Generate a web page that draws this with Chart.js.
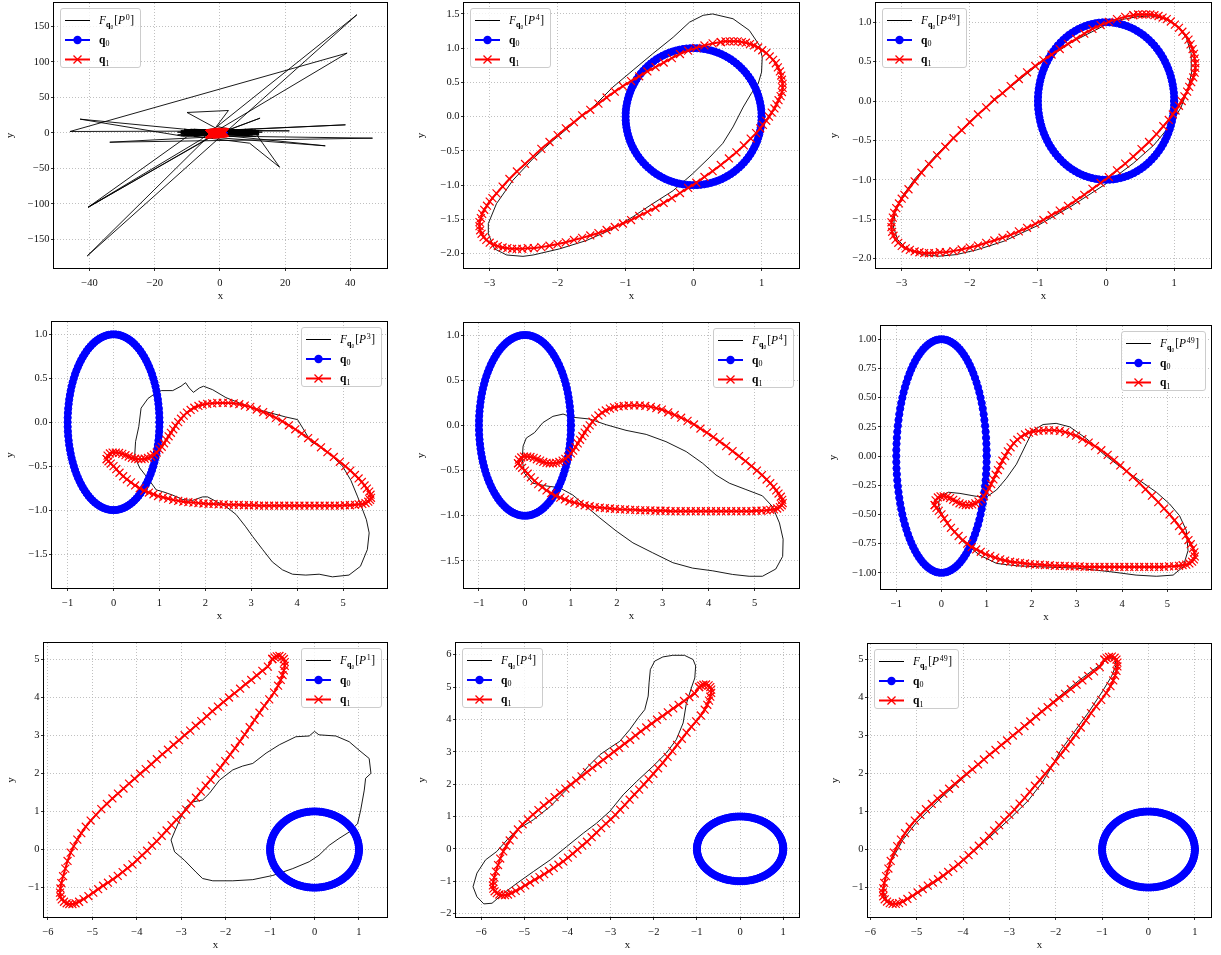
<!DOCTYPE html>
<html>
<head>
<meta charset="utf-8">
<script src="https://cdn.jsdelivr.net/npm/chart.js@4.4.1/dist/chart.umd.min.js"></script>
<style>
  html, body { margin: 0; padding: 0; background: #fff; }
  body { width: 1221px; height: 955px; position: relative; overflow: hidden; }
  canvas { position: absolute; }
</style>
</head>
<body>
<script>
// ---------- data ----------
// q0: unit circle sampled every 3 degrees
const Q0 = [
[1,0],[.999,.052],[.995,.105],[.988,.156],[.978,.208],[.966,.259],[.951,.309],[.934,.358],[.914,.407],[.891,.454],
[.866,.5],[.839,.545],[.809,.588],[.777,.629],[.743,.669],[.707,.707],[.669,.743],[.629,.777],[.588,.809],[.545,.839],
[.5,.866],[.454,.891],[.407,.914],[.358,.934],[.309,.951],[.259,.966],[.208,.978],[.156,.988],[.105,.995],[.052,.999],
[0,1],[-.052,.999],[-.105,.995],[-.156,.988],[-.208,.978],[-.259,.966],[-.309,.951],[-.358,.934],[-.407,.914],[-.454,.891],
[-.5,.866],[-.545,.839],[-.588,.809],[-.629,.777],[-.669,.743],[-.707,.707],[-.743,.669],[-.777,.629],[-.809,.588],[-.839,.545],
[-.866,.5],[-.891,.454],[-.914,.407],[-.934,.358],[-.951,.309],[-.966,.259],[-.978,.208],[-.988,.156],[-.995,.105],[-.999,.052],
[-1,0],[-.999,-.052],[-.995,-.105],[-.988,-.156],[-.978,-.208],[-.966,-.259],[-.951,-.309],[-.934,-.358],[-.914,-.407],[-.891,-.454],
[-.866,-.5],[-.839,-.545],[-.809,-.588],[-.777,-.629],[-.743,-.669],[-.707,-.707],[-.669,-.743],[-.629,-.777],[-.588,-.809],[-.545,-.839],
[-.5,-.866],[-.454,-.891],[-.407,-.914],[-.358,-.934],[-.309,-.951],[-.259,-.966],[-.208,-.978],[-.156,-.988],[-.105,-.995],[-.052,-.999],
[0,-1],[.052,-.999],[.105,-.995],[.156,-.988],[.208,-.978],[.259,-.966],[.309,-.951],[.358,-.934],[.407,-.914],[.454,-.891],
[.5,-.866],[.545,-.839],[.588,-.809],[.629,-.777],[.669,-.743],[.707,-.707],[.743,-.669],[.777,-.629],[.809,-.588],[.839,-.545],
[.866,-.5],[.891,-.454],[.914,-.407],[.934,-.358],[.951,-.309],[.966,-.259],[.978,-.208],[.988,-.156],[.995,-.105],[.999,-.052],
[1,0]
];

// q1 for the first row
const Q1_R1 = [
[0.40,1.09],[0.28,1.07],[0.16,1.04],[0.04,1.005],[-0.08,0.965],[-0.20,0.915],[-0.32,0.855],[-0.44,0.79],[-0.56,0.725],[-0.68,0.66],
[-0.80,0.59],[-0.92,0.52],[-1.04,0.445],[-1.16,0.365],[-1.28,0.28],[-1.40,0.19],[-1.52,0.10],[-1.64,0.02],[-1.76,-0.08],[-1.88,-0.17],
[-2.00,-0.27],[-2.12,-0.37],[-2.24,-0.47],[-2.36,-0.58],[-2.48,-0.69],[-2.60,-0.80],[-2.71,-0.91],[-2.81,-1.02],[-2.90,-1.12],[-2.96,-1.19],
[-3.00,-1.24],[-3.04,-1.30],[-3.08,-1.36],[-3.11,-1.42],[-3.13,-1.48],[-3.15,-1.54],[-3.15,-1.60],[-3.14,-1.66],[-3.12,-1.71],[-3.09,-1.76],
[-3.05,-1.80],[-3.00,-1.84],[-2.94,-1.87],[-2.88,-1.89],[-2.81,-1.91],[-2.74,-1.92],[-2.67,-1.93],[-2.60,-1.93],[-2.52,-1.93],[-2.44,-1.92],
[-2.35,-1.92],[-2.24,-1.905],[-2.12,-1.885],[-2.00,-1.86],[-1.88,-1.835],[-1.76,-1.80],[-1.64,-1.77],[-1.52,-1.735],[-1.40,-1.70],[-1.28,-1.655],
[-1.16,-1.61],[-1.04,-1.56],[-0.92,-1.51],[-0.80,-1.45],[-0.68,-1.39],[-0.56,-1.33],[-0.44,-1.26],[-0.32,-1.19],[-0.20,-1.115],[-0.08,-1.04],
[0.04,-0.965],[0.16,-0.88],[0.28,-0.795],[0.40,-0.705],[0.52,-0.61],[0.63,-0.52],[0.74,-0.42],[0.84,-0.32],[0.92,-0.24],[0.98,-0.17],
[1.02,-0.12],[1.07,-0.06],[1.11,0.00],[1.15,0.06],[1.19,0.12],[1.22,0.18],[1.25,0.24],[1.28,0.30],[1.30,0.36],[1.31,0.42],
[1.31,0.48],[1.30,0.54],[1.29,0.60],[1.27,0.66],[1.24,0.72],[1.21,0.78],[1.17,0.83],[1.12,0.88],[1.07,0.93],[1.01,0.97],
[0.95,1.01],[0.89,1.04],[0.83,1.06],[0.77,1.08],[0.71,1.09],[0.65,1.10],[0.59,1.10],[0.53,1.10],[0.47,1.10],[0.40,1.09]
];

// q1 for the second row
const Q1_R2 = [
[-0.15,-0.42],[-0.13,-0.38],[-0.08,-0.355],[-0.02,-0.345],[0.05,-0.345],[0.12,-0.35],[0.19,-0.36],[0.26,-0.375],[0.33,-0.39],[0.40,-0.405],
[0.47,-0.415],[0.54,-0.42],[0.61,-0.42],[0.68,-0.415],[0.75,-0.405],[0.82,-0.39],[0.88,-0.37],[0.94,-0.345],[1.00,-0.31],
[1.05,-0.28],[1.10,-0.24],[1.15,-0.20],[1.20,-0.16],[1.25,-0.12],[1.30,-0.08],[1.35,-0.04],[1.41,0.0],[1.47,0.04],[1.53,0.075],
[1.60,0.11],[1.68,0.14],[1.76,0.165],[1.85,0.185],[1.94,0.20],[2.04,0.21],[2.15,0.215],[2.26,0.22],[2.38,0.22],[2.50,0.22],
[2.62,0.215],[2.74,0.205],[2.86,0.19],
[2.98,0.175],[3.12,0.145],[3.26,0.115],[3.40,0.085],[3.54,0.05],[3.68,0.01],[3.82,-0.035],[3.96,-0.08],[4.10,-0.13],[4.24,-0.18],
[4.38,-0.23],[4.52,-0.285],[4.66,-0.34],[4.80,-0.395],[4.93,-0.45],[5.05,-0.50],[5.16,-0.55],[5.26,-0.60],
[5.34,-0.64],[5.41,-0.68],[5.47,-0.72],[5.52,-0.755],[5.57,-0.79],[5.60,-0.825],[5.61,-0.86],[5.59,-0.885],[5.55,-0.905],[5.49,-0.92],
[5.42,-0.93],[5.34,-0.935],[5.26,-0.94],
[5.15,-0.945],[5.04,-0.945],[4.93,-0.95],[4.82,-0.95],[4.71,-0.95],[4.60,-0.95],[4.49,-0.95],[4.38,-0.95],[4.27,-0.95],[4.16,-0.95],
[4.05,-0.95],[3.94,-0.95],[3.83,-0.95],[3.72,-0.95],[3.61,-0.95],[3.50,-0.95],[3.39,-0.95],[3.28,-0.95],[3.17,-0.95],[3.06,-0.945],
[2.95,-0.945],[2.84,-0.945],[2.73,-0.94],[2.62,-0.94],[2.51,-0.94],[2.40,-0.935],[2.29,-0.935],[2.18,-0.93],[2.07,-0.93],[1.96,-0.925],
[1.85,-0.92],[1.74,-0.915],[1.63,-0.91],[1.52,-0.905],[1.41,-0.895],[1.30,-0.885],[1.19,-0.87],[1.08,-0.855],[0.97,-0.84],[0.87,-0.82],
[0.77,-0.80],[0.67,-0.78],[0.57,-0.75],[0.47,-0.72],[0.38,-0.685],[0.29,-0.65],[0.21,-0.615],[0.13,-0.575],[0.06,-0.535],[0.0,-0.50],
[-0.06,-0.47],[-0.11,-0.445],[-0.15,-0.42]
];

// q1 for the third row
const Q1_R3 = [
[-0.95,5.00],[-1.05,4.80],[-1.175,4.69],[-1.30,4.57],[-1.425,4.45],[-1.55,4.34],[-1.675,4.22],[-1.80,4.10],[-1.925,3.99],[-2.05,3.87],
[-2.175,3.75],[-2.30,3.63],[-2.425,3.50],[-2.55,3.37],[-2.675,3.25],[-2.80,3.12],[-2.925,3.00],[-3.05,2.87],[-3.175,2.75],[-3.30,2.62],
[-3.425,2.50],[-3.55,2.37],[-3.675,2.24],[-3.80,2.11],[-3.925,1.99],[-4.05,1.86],[-4.175,1.73],[-4.30,1.60],[-4.425,1.47],[-4.55,1.34],
[-4.675,1.20],[-4.80,1.06],[-4.92,0.91],[-5.04,0.76],[-5.15,0.60],[-5.25,0.43],[-5.34,0.26],[-5.42,0.09],[-5.49,-0.08],
[-5.56,-0.30],[-5.61,-0.50],[-5.66,-0.70],[-5.70,-0.88],[-5.72,-1.02],[-5.73,-1.13],[-5.72,-1.23],[-5.69,-1.31],[-5.64,-1.37],[-5.58,-1.41],
[-5.52,-1.43],[-5.45,-1.43],[-5.38,-1.41],[-5.30,-1.37],
[-5.20,-1.30],[-5.09,-1.22],[-4.98,-1.13],[-4.87,-1.04],[-4.76,-0.95],[-4.65,-0.87],[-4.54,-0.78],[-4.43,-0.69],[-4.32,-0.59],[-4.21,-0.49],
[-4.10,-0.39],[-3.99,-0.27],[-3.88,-0.15],[-3.77,-0.03],[-3.66,0.10],[-3.55,0.22],[-3.44,0.36],[-3.33,0.50],[-3.22,0.64],[-3.11,0.78],
[-3.00,0.91],[-2.89,1.05],[-2.78,1.21],[-2.67,1.36],[-2.56,1.52],[-2.45,1.68],[-2.34,1.83],[-2.23,1.99],[-2.12,2.15],[-2.01,2.32],
[-1.90,2.49],[-1.79,2.66],[-1.68,2.84],[-1.57,3.02],[-1.46,3.21],[-1.35,3.40],[-1.24,3.59],[-1.13,3.77],[-1.02,3.94],[-0.91,4.12],
[-0.82,4.30],[-0.76,4.45],[-0.72,4.58],[-0.69,4.70],[-0.67,4.82],[-0.67,4.92],[-0.69,5.00],[-0.73,5.05],[-0.79,5.08],[-0.85,5.07],
[-0.90,5.04],[-0.95,5.00]
];

// F_{q0}[P^k] curves, one per panel
const F_P0 = [
[0,0],[-11,3],[10,-2],[-12,-4],[12,3],[-9,5],[11,-5],[-13,1],[9,4],[-10,-2],
[11,0],[-12,-1],[10,3],[-9,-3],[12,-1],[-11,5],[9,-4],[-10,1],[12,2],[-13,-3],
[8,5],[-8,-5],[11,4],[-12,0],[10,-3],[-9,3],[12,0],[-11,-2],[9,2],[-10,4],
[21.3,2.8],[-46,1.9],[39,112.4],[-1,3],
[12,-3],[-12,2],[10,5],[-11,-5],
[-42.9,19.3],[3,-1],[-5,2],
[38.5,11.3],[-12,1],
[-1,6],[-10.1,28.7],[2.6,31.5],[-1.1,8.9],
[12,-2],[-11,4],[13,1],[-9,-4],
[46.8,-7.5],[-33.8,-13.2],[9,-3],
[-12,3],[11,2],[-10,-5],
[-40.4,-104.8],[-2,-4],
[12.3,20.7],[-4,-7],
[-40.7,-173.5],[42,166.4],[-6,-10],[-40.4,-104.8],[-3,-6],
[32.3,-18.3],[-9,1],[11,-1],
[18.3,-48.4],[9.1,-14.6],[-11,-3],[12,1],[-8,5],[0,0]
];
const F_P2 = [
[0.28,1.50],[0.58,1.43],[0.82,1.26],[0.97,1.04],[1.01,0.87],[1.0,0.65],[0.95,0.48],[0.85,0.34],[0.73,0.14],[0.58,-0.15],
[0.43,-0.39],[0.24,-0.59],[-0.01,-0.83],[-0.30,-1.08],[-0.6,-1.27],[-0.89,-1.46],[-1.19,-1.64],[-1.58,-1.81],[-1.97,-1.93],[-2.36,-2.02],
[-2.51,-2.04],[-2.75,-2.02],[-2.93,-1.93],[-3.02,-1.71],[-3.02,-1.56],[-2.90,-1.27],[-2.66,-0.93],[-2.36,-0.61],[-2.07,-0.35],[-1.77,-0.10],
[-1.48,0.14],[-1.19,0.43],[-0.89,0.68],[-0.60,0.92],[-0.30,1.16],[-0.06,1.38],[0.14,1.48],[0.28,1.50]
];
const F_P3 = [
[0.45,1.07],[0.2,1.03],[0,0.97],[-0.5,0.75],[-1,0.46],[-1.5,0.11],[-2,-0.26],[-2.5,-0.69],[-2.8,-0.98],[-3.0,-1.22],
[-3.1,-1.42],[-3.12,-1.6],[-3.06,-1.76],[-2.92,-1.88],[-2.7,-1.95],[-2.45,-1.97],[-2.2,-1.95],[-1.9,-1.89],[-1.5,-1.78],[-1.0,-1.58],
[-0.5,-1.33],[0,-1.05],[0.4,-0.79],[0.7,-0.56],[0.95,-0.3],[1.1,-0.08],[1.2,0.15],[1.26,0.38],[1.25,0.6],[1.18,0.8],
[1.05,0.95],[0.85,1.05],[0.65,1.08],[0.45,1.07]
];
const F_P4 = [
[0.55,-0.05],[0.60,0.16],[0.75,0.27],[0.86,0.31],[1.04,0.36],[1.29,0.36],[1.47,0.41],[1.57,0.45],[1.65,0.39],[1.74,0.34],
[1.87,0.39],[1.96,0.41],[2.16,0.37],[2.45,0.28],[2.74,0.22],[3.03,0.16],[3.32,0.12],[3.75,0.06],[4.01,0.03],[4.15,-0.09],
[4.30,-0.22],[4.51,-0.28],[4.77,-0.39],[4.99,-0.50],[5.17,-0.66],[5.32,-0.85],[5.43,-1.0],[5.51,-1.11],[5.57,-1.26],[5.53,-1.45],
[5.38,-1.64],[5.13,-1.74],[4.77,-1.76],[4.48,-1.73],[4.19,-1.74],[3.90,-1.73],[3.68,-1.68],[3.46,-1.59],[3.25,-1.45],[3.03,-1.30],
[2.88,-1.19],[2.67,-1.05],[2.45,-0.96],[2.23,-0.90],[2.05,-0.85],[1.94,-0.85],[1.72,-0.89],[1.51,-0.88],[1.29,-0.83],[1.07,-0.79],
[0.93,-0.77],[0.75,-0.64],[0.57,-0.52],[0.46,-0.39],[0.48,-0.22],[0.55,-0.05]
];
const F_P5 = [
[-0.04,-0.23],[0.03,-0.14],[0.21,-0.08],[0.39,0.03],[0.61,0.10],[0.83,0.125],[1.04,0.09],[1.41,0.07],[1.77,0.007],[2.20,-0.055],
[2.64,-0.10],[3.07,-0.18],[3.51,-0.29],[3.87,-0.42],[4.16,-0.55],[4.45,-0.64],[4.81,-0.71],[5.17,-0.78],[5.39,-0.90],[5.54,-1.08],
[5.62,-1.26],[5.61,-1.45],[5.46,-1.59],[5.17,-1.67],[4.88,-1.67],[4.52,-1.65],[4.09,-1.61],[3.65,-1.58],[3.22,-1.52],[2.78,-1.41],
[2.35,-1.30],[1.99,-1.17],[1.62,-1.02],[1.33,-0.895],[1.04,-0.77],[0.75,-0.69],[0.46,-0.67],[0.17,-0.64],[-0.01,-0.53],[-0.06,-0.38],
[-0.04,-0.23]
];
const F_P6 = [
[0,-0.34],[0.15,-0.31],[0.41,-0.32],[0.77,-0.345],[1.0,-0.35],[1.22,-0.29],[1.44,-0.19],[1.66,-0.07],[1.88,0.105],[2.03,0.22],
[2.25,0.27],[2.54,0.28],[2.84,0.25],[3.21,0.15],[3.58,0.02],[3.95,-0.09],[4.39,-0.21],[4.76,-0.31],[5.05,-0.41],[5.27,-0.51],
[5.42,-0.635],[5.46,-0.81],[5.35,-0.95],[5.13,-1.02],[4.76,-1.03],[4.31,-1.02],[3.72,-0.99],[2.99,-0.96],[2.25,-0.95],[1.66,-0.94],
[1.22,-0.92],[0.85,-0.85],[0.48,-0.735],[0.18,-0.61],[0,-0.49],[-0.07,-0.42],[-0.04,-0.365],[0,-0.34]
];
const F_P7 = [
[-3.23,0.25],[-3.04,0.77],[-2.89,1.12],[-2.74,1.25],[-2.52,1.30],[-2.37,1.47],[-2.14,1.82],[-1.84,2.09],[-1.62,2.19],[-1.39,2.26],
[-1.09,2.53],[-0.79,2.75],[-0.42,2.96],[-0.12,2.98],[0,3.10],[0.10,3.01],[0.48,2.98],[0.78,2.83],[1.0,2.61],[1.23,2.39],
[1.27,2.0],[1.15,1.87],[1.12,1.56],[1.04,1.04],[0.97,0.68],[0.78,0.46],[0.55,0.29],[0.33,0.11],[0.10,-0.15],[-0.12,-0.32],
[-0.49,-0.5],[-0.94,-0.68],[-1.39,-0.79],[-1.84,-0.82],[-2.29,-0.82],[-2.52,-0.76],[-2.67,-0.59],[-2.93,-0.28],[-3.15,-0.06],[-3.23,0.25]
];
const F_P8 = [
[-1.56,5.98],[-1.79,5.93],[-1.98,5.80],[-2.08,5.54],[-2.11,5.13],[-2.13,4.72],[-2.21,4.30],[-2.36,4.05],[-2.56,3.68],[-2.79,3.32],
[-3.02,3.12],[-3.25,2.91],[-3.52,2.55],[-3.79,2.14],[-4.10,1.72],[-4.40,1.31],[-4.79,0.90],[-5.17,0.59],[-5.40,0.28],[-5.64,-0.08],
[-5.90,-0.34],[-6.10,-0.75],[-6.19,-1.17],[-6.10,-1.48],[-5.94,-1.70],[-5.75,-1.68],[-5.48,-1.37],[-5.17,-1.06],[-4.79,-0.70],[-4.40,-0.34],
[-4.02,0.07],[-3.63,0.49],[-3.33,0.79],[-3.02,1.16],[-2.71,1.67],[-2.40,2.08],[-2.02,2.55],[-1.71,2.96],[-1.48,3.37],[-1.32,3.89],
[-1.25,4.46],[-1.13,4.97],[-1.05,5.28],[-1.03,5.65],[-1.09,5.85],[-1.29,5.98],[-1.56,5.98]
];
const F_P9 = [
[-0.85,5.05],[-1.0,4.9],[-1.5,4.45],[-2,3.95],[-2.5,3.45],[-3,2.92],[-3.5,2.42],[-4,1.88],[-4.5,1.33],[-5,0.72],
[-5.3,0.25],[-5.55,-0.3],[-5.68,-0.75],[-5.72,-1.1],[-5.65,-1.33],[-5.5,-1.43],[-5.3,-1.39],[-5.0,-1.17],[-4.5,-0.78],[-4,-0.30],
[-3.5,0.24],[-3,0.80],[-2.6,1.28],[-2.3,1.75],[-2.1,2.15],[-1.9,2.6],[-1.6,3.1],[-1.3,3.6],[-1.0,4.15],[-0.8,4.55],
[-0.7,4.85],[-0.72,5.02],[-0.85,5.05]
];

// tick values
const X_TICKS_P1 = [-40, -20, 0, 20, 40];
const Y_TICKS_P1 = [-150, -100, -50, 0, 50, 100, 150];
const X_TICKS_R1 = [-3, -2, -1, 0, 1];
const Y_TICKS_P2 = [-2, -1.5, -1, -0.5, 0, 0.5, 1, 1.5];
const Y_TICKS_P3 = [-2, -1.5, -1, -0.5, 0, 0.5, 1];
const X_TICKS_R2 = [-1, 0, 1, 2, 3, 4, 5];
const Y_TICKS_P45 = [-1.5, -1, -0.5, 0, 0.5, 1];
const Y_TICKS_P6 = [-1, -0.75, -0.5, -0.25, 0, 0.25, 0.5, 0.75, 1];
const X_TICKS_R3 = [-6, -5, -4, -3, -2, -1, 0, 1];
const Y_TICKS_P79 = [-1, 0, 1, 2, 3, 4, 5];
const Y_TICKS_P8 = [-2, -1, 0, 1, 2, 3, 4, 5, 6];

// power shown in each legend
const POWERS = ['0', '4', '49', '3', '4', '49', '1', '4', '49'];

// ---------- layout ----------
const panels = [
  {box:[54,3,388,268],   yw:49, xlim:[-50.9,51.3],   ylim:[-190.5,183],   xt:X_TICKS_P1, yt:Y_TICKS_P1, yd:0, F:F_P0, q1:Q1_R1, leg:'ul'},
  {box:[464,3,800,268],  yw:48, xlim:[-3.378,1.554], ylim:[-2.21,1.66],   xt:X_TICKS_R1, yt:Y_TICKS_P2, yd:1, F:F_P2, q1:Q1_R1, leg:'ul'},
  {box:[876,3,1212,268], yw:47, xlim:[-3.377,1.543], ylim:[-2.12,1.245],  xt:X_TICKS_R1, yt:Y_TICKS_P3, yd:1, F:F_P3, q1:Q1_R1, leg:'ul'},
  {box:[52,322,388,588], yw:47, xlim:[-1.341,5.963], ylim:[-1.887,1.141], xt:X_TICKS_R2, yt:Y_TICKS_P45, yd:1, F:F_P4, q1:Q1_R2, leg:'ur'},
  {box:[464,323,800,588],yw:48, xlim:[-1.326,5.97],  ylim:[-1.80,1.133],  xt:X_TICKS_R2, yt:Y_TICKS_P45, yd:1, F:F_P5, q1:Q1_R2, leg:'ur'},
  {box:[881,326,1212,589],yw:53,xlim:[-1.339,5.973], ylim:[-1.139,1.114], xt:X_TICKS_R2, yt:Y_TICKS_P6, yd:2, F:F_P6, q1:Q1_R2, leg:'ur'},
  {box:[44,643,388,917], yw:38, xlim:[-6.09,1.636],  ylim:[-1.77,5.42],   xt:X_TICKS_R3, yt:Y_TICKS_P79, yd:0, F:F_P7, q1:Q1_R3, leg:'ur'},
  {box:[456,643,800,917],yw:39, xlim:[-6.585,1.37],  ylim:[-2.105,6.36],  xt:X_TICKS_R3, yt:Y_TICKS_P8, yd:0, F:F_P8, q1:Q1_R3, leg:'ul'},
  {box:[868,644,1212,917],yw:38,xlim:[-6.05,1.353],  ylim:[-1.776,5.41],  xt:X_TICKS_R3, yt:Y_TICKS_P79, yd:0, F:F_P9, q1:Q1_R3, leg:'ul'}
];

const SERIF = "'Liberation Serif', 'DejaVu Serif', serif";
const PAD_TOP = 8, PAD_RIGHT = 6, X_AXIS_H = 34;

Chart.defaults.font.family = SERIF;
Chart.defaults.color = '#111';

const fmt = (v, d) => v.toFixed(d).replace('-', '\u2212');
const pts = arr => arr.map(([x, y]) => ({x, y}));

// legend text pieces (math-style label)
function runsF(e) {
  return [
    {t:'F', f:`italic 11.5px ${SERIF}`},
    {t:'q', f:`bold 8px ${SERIF}`, dy:2.5},
    {t:'0', f:`5.5px ${SERIF}`, dy:4.2},
    {t:'[', f:`11.5px ${SERIF}`, dx:1},
    {t:'P', f:`italic 11.5px ${SERIF}`},
    {t:e,   f:`8px ${SERIF}`, dx:0.6, dy:-4.6},
    {t:']', f:`11.5px ${SERIF}`, dx:0.6}
  ];
}
function runsQ(i) {
  return [{t:'q', f:`bold 11.5px ${SERIF}`}, {t:String(i), f:`8px ${SERIF}`, dy:2.6}];
}
function drawRuns(ctx, runs, x, y, draw) {
  for (const r of runs) {
    ctx.font = r.f;
    x += r.dx || 0;
    if (draw) ctx.fillText(r.t, x, y + (r.dy || 0));
    x += ctx.measureText(r.t).width;
  }
  return x;
}
function roundRect(ctx, x, y, w, h, r) {
  ctx.beginPath();
  ctx.moveTo(x + r, y);
  ctx.lineTo(x + w - r, y); ctx.arcTo(x + w, y, x + w, y + r, r);
  ctx.lineTo(x + w, y + h - r); ctx.arcTo(x + w, y + h, x + w - r, y + h, r);
  ctx.lineTo(x + r, y + h); ctx.arcTo(x, y + h, x, y + h - r, r);
  ctx.lineTo(x, y + r); ctx.arcTo(x, y, x + r, y, r);
  ctx.closePath();
}

// axes frame and in-plot legend
const decor = {
  id: 'decor',
  afterDraw(chart, args, opts) {
    const {ctx, chartArea: a} = chart;
    ctx.save();
    ctx.strokeStyle = '#000';
    ctx.lineWidth = 1;
    ctx.strokeRect(Math.round(a.left) - 0.5, Math.round(a.top) - 0.5,
                   Math.round(a.right - a.left) + 1, Math.round(a.bottom - a.top) + 1);

    const rows = [runsF(opts.exp), runsQ(0), runsQ(1)];
    const textX = 39;
    let tw = 0;
    for (const r of rows) tw = Math.max(tw, drawRuns(ctx, r, 0, 0, false));
    const w = Math.round(textX + tw + 6), h = 59;
    const x0 = opts.leg === 'ul' ? Math.round(a.left) + 6 : Math.round(a.right) - 6 - w;
    const y0 = Math.round(a.top) + 5;
    roundRect(ctx, x0 + 0.5, y0 + 0.5, w, h, 2.5);
    ctx.fillStyle = 'rgba(255,255,255,0.8)';
    ctx.fill();
    ctx.strokeStyle = '#cccccc';
    ctx.lineWidth = 1;
    ctx.stroke();

    const ys = [y0 + 12.5, y0 + 32, y0 + 51.5];
    const lx0 = x0 + 5, lx1 = x0 + 30, cx = (lx0 + lx1) / 2;
    // F sample
    ctx.strokeStyle = '#000'; ctx.lineWidth = 1;
    ctx.beginPath(); ctx.moveTo(lx0, ys[0]); ctx.lineTo(lx1, ys[0]); ctx.stroke();
    // q0 sample
    ctx.strokeStyle = '#0000ff'; ctx.lineWidth = 2;
    ctx.beginPath(); ctx.moveTo(lx0, ys[1]); ctx.lineTo(lx1, ys[1]); ctx.stroke();
    ctx.fillStyle = '#0000ff';
    ctx.beginPath(); ctx.arc(cx, ys[1], 4.2, 0, Math.PI * 2); ctx.fill();
    // q1 sample
    ctx.strokeStyle = '#ff0000'; ctx.lineWidth = 2;
    ctx.beginPath(); ctx.moveTo(lx0, ys[2]); ctx.lineTo(lx1, ys[2]); ctx.stroke();
    ctx.lineWidth = 1.3;
    ctx.beginPath();
    ctx.moveTo(cx - 4, ys[2] - 4); ctx.lineTo(cx + 4, ys[2] + 4);
    ctx.moveTo(cx - 4, ys[2] + 4); ctx.lineTo(cx + 4, ys[2] - 4);
    ctx.stroke();

    ctx.fillStyle = '#000';
    ctx.textBaseline = 'alphabetic';
    ctx.textAlign = 'left';
    rows.forEach((r, i) => drawRuns(ctx, r, x0 + textX, ys[i] + 3.8, true));
    ctx.restore();
  }
};

function axis(p, isX) {
  const ticks = isX ? p.xt : p.yt;
  const dec = isX ? 0 : p.yd;
  return {
    type: 'linear',
    position: isX ? 'bottom' : 'left',
    min: isX ? p.xlim[0] : p.ylim[0],
    max: isX ? p.xlim[1] : p.ylim[1],
    afterBuildTicks: s => { s.ticks = ticks.map(v => ({value: v})); },
    afterFit: s => { if (isX) s.height = X_AXIS_H; else s.width = p.yw; },
    ticks: {
      callback: v => fmt(v, dec),
      padding: isX ? 6 : 1.5,
      font: {size: 10.5},
      color: '#111',
      maxRotation: 0, minRotation: 0,
      autoSkip: false
    },
    grid: {
      color: '#b0b0b0',
      lineWidth: 0.8,
      borderDash: [1, 2],
      drawTicks: true,
      tickLength: 3,
      tickColor: '#000',
      tickWidth: 0.8,
      tickBorderDash: []
    },
    border: {display: false, dash: [1, 2]},
    title: {
      display: true,
      text: isX ? 'x' : 'y',
      font: {size: 11, lineHeight: 1},
      padding: 0,
      color: '#111'
    }
  };
}

panels.forEach((p, i) => {
  const [L, T, R, B] = p.box;
  const cv = document.createElement('canvas');
  const w = R - L + p.yw + PAD_RIGHT;
  const h = B - T + PAD_TOP + X_AXIS_H;
  cv.width = w; cv.height = h;
  cv.style.width = w + 'px'; cv.style.height = h + 'px';
  cv.style.left = (L - p.yw) + 'px';
  cv.style.top = (T - PAD_TOP) + 'px';
  document.body.appendChild(cv);

  new Chart(cv, {
    type: 'scatter',
    data: {
      datasets: [
        {
          label: 'F', data: pts(p.F), showLine: true, order: 2,
          borderColor: '#000', borderWidth: 0.9, pointRadius: 0, pointHoverRadius: 0,
          tension: 0
        },
        {
          label: 'q0', data: pts(Q0), showLine: true, order: 1,
          borderColor: '#0000ff', borderWidth: 2, backgroundColor: '#0000ff',
          pointStyle: 'circle', pointRadius: 3.6, pointBorderWidth: 1,
          pointBackgroundColor: '#0000ff', pointBorderColor: '#0000ff', pointHoverRadius: 3.6,
          tension: 0
        },
        {
          label: 'q1', data: pts(p.q1), showLine: true, order: 0,
          borderColor: '#ff0000', borderWidth: 2, backgroundColor: '#ff0000',
          pointStyle: 'crossRot', pointRadius: 5.6, pointBorderWidth: 1.2,
          pointBorderColor: '#ff0000', pointHoverRadius: 5.6,
          tension: 0
        }
      ]
    },
    options: {
      responsive: false,
      animation: false,
      events: [],
      devicePixelRatio: 1,
      layout: {padding: {top: PAD_TOP, right: PAD_RIGHT, left: 0, bottom: 0}},
      plugins: {
        legend: {display: false},
        tooltip: {enabled: false},
        decor: {exp: POWERS[i], leg: p.leg}
      },
      scales: {x: axis(p, true), y: axis(p, false)}
    },
    plugins: [decor]
  });
});
</script>
</body>
</html>
